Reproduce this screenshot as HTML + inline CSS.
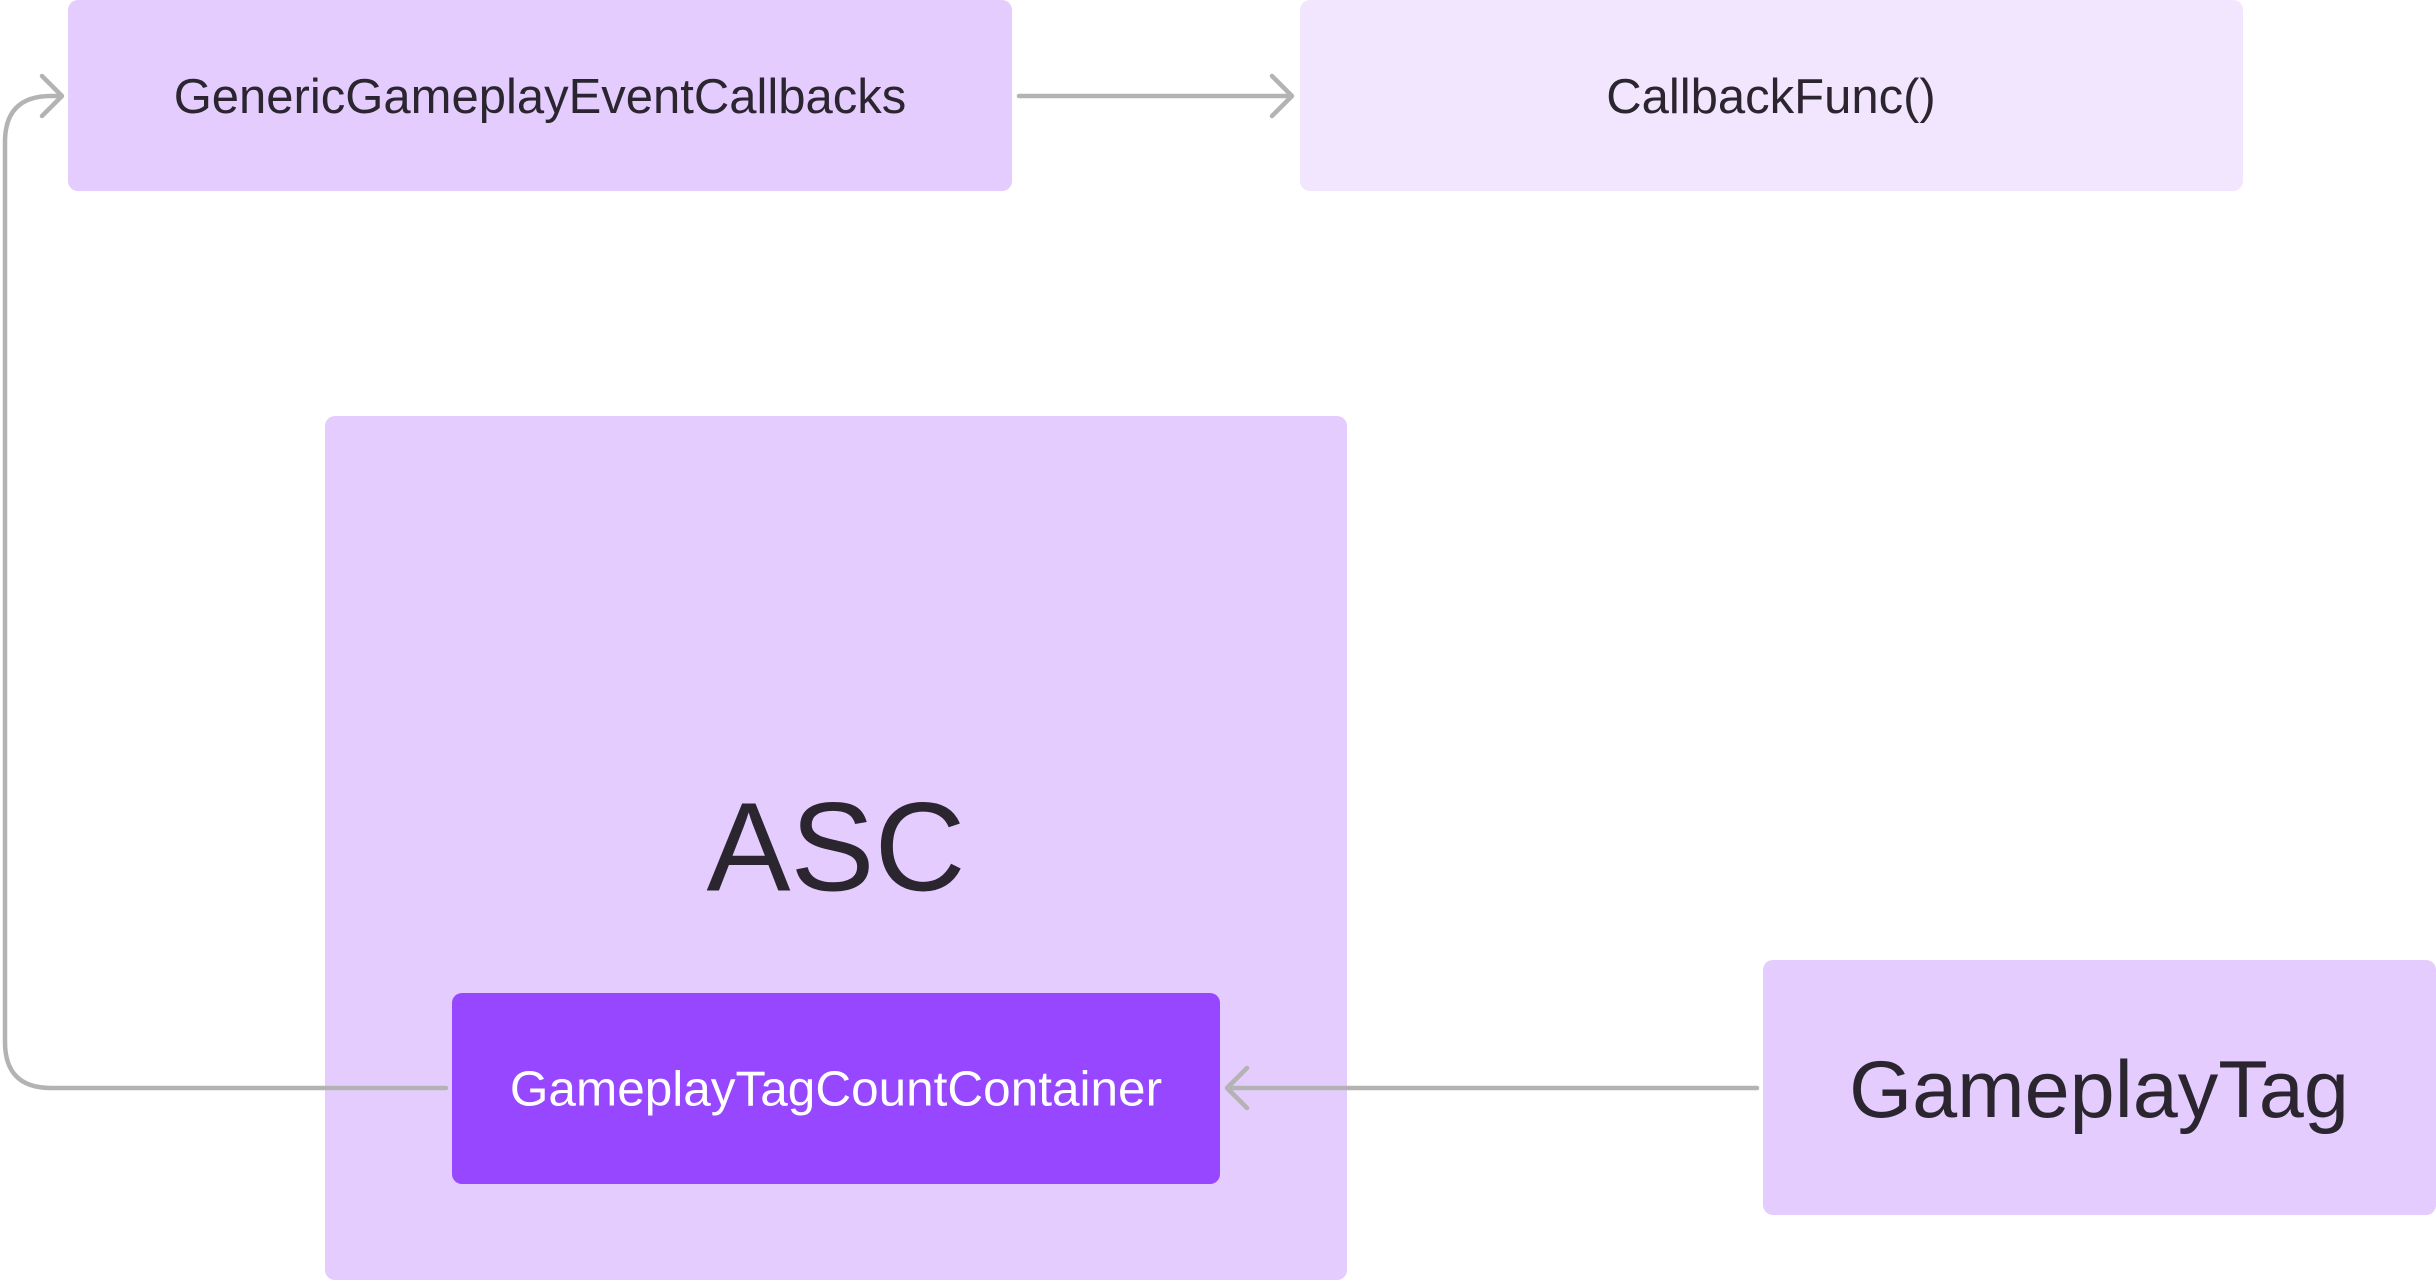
<!DOCTYPE html>
<html><head><meta charset="utf-8"><style>
html,body{margin:0;padding:0;background:#fff;}
body{width:2436px;height:1280px;overflow:hidden;}
</style></head><body>
<svg width="2436" height="1280" viewBox="0 0 2436 1280" xmlns="http://www.w3.org/2000/svg" font-family="Liberation Sans, sans-serif">
<rect x="68" y="0" width="944" height="191" rx="10" fill="#e4ccfe"/>
<rect x="1300" y="0" width="943" height="191" rx="10" fill="#f1e6fe"/>
<rect x="325" y="416" width="1022" height="864" rx="10" fill="#e4ccfe"/>
<rect x="452" y="993" width="768" height="191" rx="10" fill="#9747ff"/>
<rect x="1763" y="960" width="673" height="255" rx="10" fill="#e4ccfe"/>
<g fill="#2b2530" text-anchor="middle" dominant-baseline="central">
<text x="540" y="97" font-size="49">GenericGameplayEventCallbacks</text>
<text x="1771" y="97" font-size="49">CallbackFunc()</text>
<text x="836" y="847" font-size="126">ASC</text>
<text x="2099" y="1090" font-size="81">GameplayTag</text>
<text x="836" y="1089" font-size="49.5" fill="#ffffff">GameplayTagCountContainer</text>
</g>
<g fill="none" stroke="#b3b3b3" stroke-width="4.5" stroke-linecap="round" stroke-linejoin="round">
<path d="M1019 96 H1290"/>
<path d="M1272 76 L1292 96 L1272 116"/>
<path d="M446 1088 H51 Q5 1088 5 1042 V142 Q5 96 51 96 H60"/>
<path d="M42 76 L62 96 L42 116"/>
<path d="M1757 1088 H1229"/>
<path d="M1247 1068 L1227 1088 L1247 1108"/>
</g>
</svg>
</body></html>
